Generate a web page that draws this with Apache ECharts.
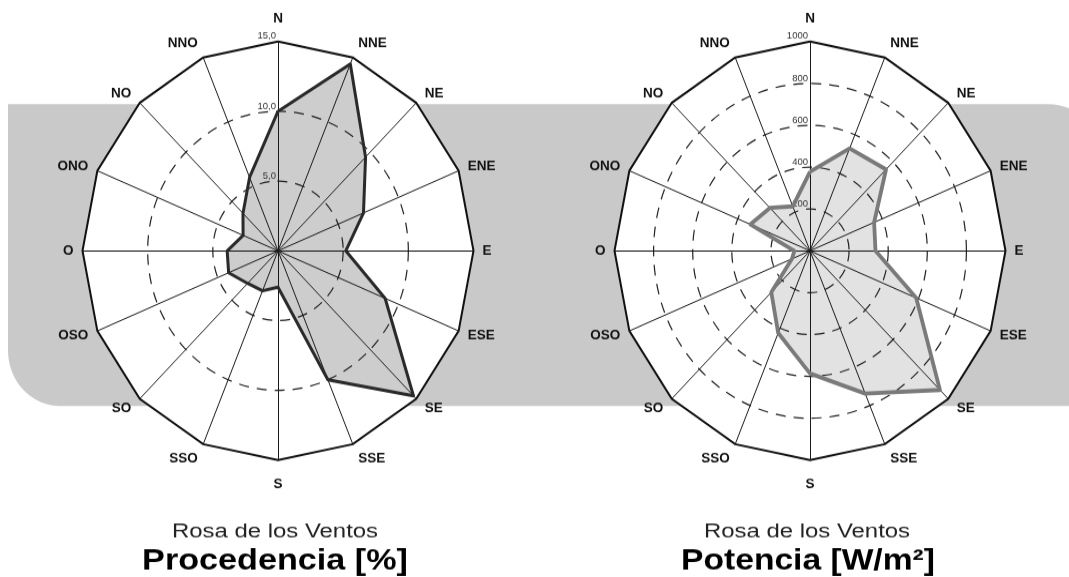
<!DOCTYPE html>
<html>
<head>
<meta charset="utf-8">
<script src="https://cdn.jsdelivr.net/npm/echarts@6/dist/echarts.min.js"></script>
<style>
  html, body { margin: 0; padding: 0; background: #ffffff; overflow: hidden; }
  #wrap { position: absolute; left: 0; top: 0; width: 1069px; height: 577px; overflow: hidden; }
  #chart { position: absolute; left: 0; top: 0; width: 1069px; height: 539px;
           transform: scaleY(1.0705); transform-origin: 0 0; }
</style>
</head>
<body>
<div id="wrap"><div id="chart"></div></div>
<script>
// ---- data (compass order, clockwise from N) ----
const DIRECTIONS = ['N','NNE','NE','ENE','E','ESE','SE','SSE','S','SSO','SO','OSO','O','ONO','NO','NNO'];
const PROCEDENCIA = [10.0, 14.5, 9.5, 7.1, 5.2, 8.9, 14.7, 10.0, 2.6, 3.1, 3.3, 4.1, 3.9, 2.9, 3.8, 5.7];
const POTENCIA = [378, 530, 550, 355, 335, 588, 940, 738, 586, 425, 280, 100, 80, 330, 290, 230];
const PROC_MAX = 15;
const POT_MAX = 1000;
const PROC_TICK_VALUES = [5, 10, 15];
const PROC_TICK_LABELS = ['5,0', '10,0', '15,0'];
const POT_TICK_VALUES = [200, 400, 600, 800, 1000];
const POT_TICK_LABELS = ['200', '400', '600', '800', '1000'];
const TITLE_TOP = 'Rosa de los Ventos';
const TITLE_LEFT = 'Procedencia [%]';
const TITLE_RIGHT = 'Potencia [W/m²]';

const S = 577 / 539;
const FONT = "'Liberation Sans', Arial, Helvetica, sans-serif";
const N = DIRECTIONS.length;
// ECharts radar runs counter-clockwise: reorder compass indices
const ORDER = DIRECTIONS.map((d, k) => (N - k) % N);

function indicators(max, withLabel) {
  return ORDER.map(c => {
    const th = c * 2 * Math.PI / N;
    const o = { name: DIRECTIONS[c], min: 0, max: max,
                nameGap: 9 + 6 * Math.cos(th) * Math.cos(th) };
    if (withLabel && c === 0) o.axisLabel = { show: true };
    return o;
  });
}
function values(arr) { return ORDER.map(c => arr[c]); }

const CENTER_L = [278, 234.3];
const CENTER_R = [810, 234.3];
const RADIUS = 195.5;

function baseRadar(center, max, splitN) {
  const rings = [];
  for (let i = 0; i <= splitN; i++) rings.push(i === splitN ? '#111' : 'rgba(0,0,0,0)');
  return {
    z: 0, center: center, radius: RADIUS, startAngle: 90, shape: 'polygon',
    splitNumber: splitN, indicator: indicators(max, false),
    axisName: { show: true, color: '#111', fontSize: 13.5, fontWeight: 'bold', fontFamily: FONT },
    axisLine: { show: false }, axisTick: { show: false }, axisLabel: { show: false },
    splitLine: { show: true, lineStyle: { color: rings, width: 2 } },
    splitArea: { show: true, areaStyle: { color: ['#ffffff'] } }
  };
}
function topRadar(center, max, splitN, tv, tl) {
  const rings = [];
  for (let i = 0; i <= splitN; i++) rings.push((i === 0 || i === splitN) ? 'rgba(0,0,0,0)' : '#222');
  return {
    z: 3, center: center, radius: RADIUS, startAngle: 90, shape: 'circle',
    splitNumber: splitN, indicator: indicators(max, true),
    axisName: { show: false },
    axisLine: { show: true, lineStyle: { color: '#1a1a1a', width: 1 } },
    axisTick: { show: false },
    axisLabel: { show: false, fontSize: 9.5, color: '#333', fontFamily: FONT, margin: 2,
                 verticalAlign: 'bottom', showMinLabel: false,
                 formatter: v => { const i = tv.indexOf(v); return i < 0 ? '' : tl[i]; } },
    splitLine: { show: true, lineStyle: { color: rings, width: 1.2, type: [10, 8] } },
    splitArea: { show: false }
  };
}

function areaSeries(radarIndex, arr, name, fill) {
  return { type: 'radar', radarIndex: radarIndex, z: 2, symbol: 'none', silent: true,
           lineStyle: { width: 0, opacity: 0 },
           areaStyle: { color: fill, opacity: 1 },
           data: [{ value: values(arr), name: name }] };
}
function lineSeries(radarIndex, arr, name, color, width) {
  return { type: 'radar', radarIndex: radarIndex, z: 4, symbol: 'none', silent: true,
           lineStyle: { color: color, width: width, join: 'round' },
           data: [{ value: values(arr), name: name }] };
}

const chart = echarts.init(document.getElementById('chart'), null, { renderer: 'canvas' });
chart.setOption({
  animation: false,
  backgroundColor: '#ffffff',
  radar: [
    baseRadar(CENTER_L, PROC_MAX, 3),
    baseRadar(CENTER_R, POT_MAX, 5),
    topRadar(CENTER_L, PROC_MAX, 3, PROC_TICK_VALUES, PROC_TICK_LABELS),
    topRadar(CENTER_R, POT_MAX, 5, POT_TICK_VALUES, POT_TICK_LABELS)
  ],
  series: [
    areaSeries(0, PROCEDENCIA, TITLE_LEFT, '#cdcdcd'),
    areaSeries(1, POTENCIA, TITLE_RIGHT, '#e2e2e2'),
    lineSeries(0, PROCEDENCIA, TITLE_LEFT, '#2a2a2a', 3),
    lineSeries(1, POTENCIA, TITLE_RIGHT, '#7a7a7a', 3.8)
  ],
  graphic: [
    { type: 'rect', z: -10, shape: { x: 8, y: 104 / S, width: 1100, height: 302 / S, r: [0, 60, 0, 52] },
      style: { fill: '#c9c9c9' } },
    { type: 'text', z: 10, x: 275, y: 532 / S, scaleX: 1.28,
      style: { text: TITLE_TOP, fontSize: 18.7, fontFamily: FONT, fill: '#222', align: 'center', verticalAlign: 'middle' } },
    { type: 'text', z: 10, x: 275, y: 561 / S, scaleX: 1.22,
      style: { text: TITLE_LEFT, fontSize: 28, fontWeight: 'bold', fontFamily: FONT, fill: '#000', align: 'center', verticalAlign: 'middle' } },
    { type: 'text', z: 10, x: 807, y: 532 / S, scaleX: 1.28,
      style: { text: TITLE_TOP, fontSize: 18.7, fontFamily: FONT, fill: '#222', align: 'center', verticalAlign: 'middle' } },
    { type: 'text', z: 10, x: 808, y: 561 / S, scaleX: 1.2,
      style: { text: TITLE_RIGHT, fontSize: 28, fontWeight: 'bold', fontFamily: FONT, fill: '#000', align: 'center', verticalAlign: 'middle' } }
  ]
});
</script>
</body>
</html>
